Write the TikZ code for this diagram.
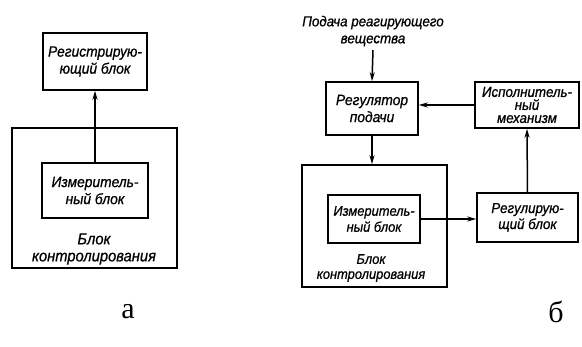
\documentclass[tikz,border=0pt]{standalone}
\usepackage{fontspec}
\setmainfont{Liberation Serif}
\newfontfamily\gost[FakeStretch=0.92,FakeBold=0.8]{Liberation Sans}
\usetikzlibrary{arrows.meta}
\tikzset{
  blk/.style={draw, line width=1.5pt, inner sep=0pt, align=center, font=\gost\itshape\fontsize{15}{17}\selectfont},
  txt/.style={inner sep=0pt, align=center, font=\gost\itshape\fontsize{14.5}{17}\selectfont},
  con/.style={line width=1.5pt, -{Stealth[length=9pt,width=5pt]}},
  lbl/.style={inner sep=0pt, font=\fontsize{30}{34}\selectfont}
}
\begin{document}
\begin{tikzpicture}[x=1pt,y=-1pt]
\useasboundingbox (0,0) rectangle (582,347);
% --- a ---
\node[blk, minimum width=104pt, minimum height=57pt] (regA) at (95,61.5) {Регистрирую-\\ющий блок};
\node[blk, minimum width=165pt, minimum height=140pt] (outA) at (94.5,198) {};
\node[blk, minimum width=106pt, minimum height=55pt] (measA) at (95,190.5) {Измеритель-\\ный блок};
\node[txt, font=\gost\itshape\fontsize{16}{17}\selectfont] (outAt) at (94,249) {Блок\\контролирования};
\draw[con] (measA.north) -- (regA.south);
% --- b ---
\node[txt] (inB) at (373,31) {Подача реагирующего\\вещества};
\coordinate (inBe) at (373,50);
\node[blk, minimum width=92pt, minimum height=53pt] (regul) at (372,108.5) {Регулятор\\подачи};
\node[blk, minimum width=104pt, minimum height=46pt, font=\gost\itshape\fontsize{14.5}{13}\selectfont] (isp) at (527,105) {Исполнитель-\\ный\\механизм};
\node[blk, minimum width=145pt, minimum height=122pt] (outB) at (374.5,226) {};
\node[blk, minimum width=92pt, minimum height=48pt, font=\gost\itshape\fontsize{14}{16}\selectfont] (measB) at (374,219) {Измеритель-\\ный блок};
\node[blk, minimum width=101pt, minimum height=49pt, font=\gost\itshape\fontsize{14.5}{16}\selectfont] (regb) at (527.5,217.5) {Регулирую-\\щий блок};
\node[txt, font=\gost\itshape\fontsize{14}{15}\selectfont] (outBt) at (371,268) {Блок\\контролирования};
\draw[con] (inBe) -- (regul.north);
\draw[con] (isp.west) -- (isp.west -| regul.east);
\draw[con] (regul.south) -- (regul.south |- outB.north);
\draw[con] (measB.east) -- (measB.east -| regb.west);
\draw[con] (regb.north) -- (isp.south);
% labels
\node[lbl] (la) at (128,312) {а};
\node[lbl] (lb) at (556,312) {б};
\end{tikzpicture}
\end{document}
